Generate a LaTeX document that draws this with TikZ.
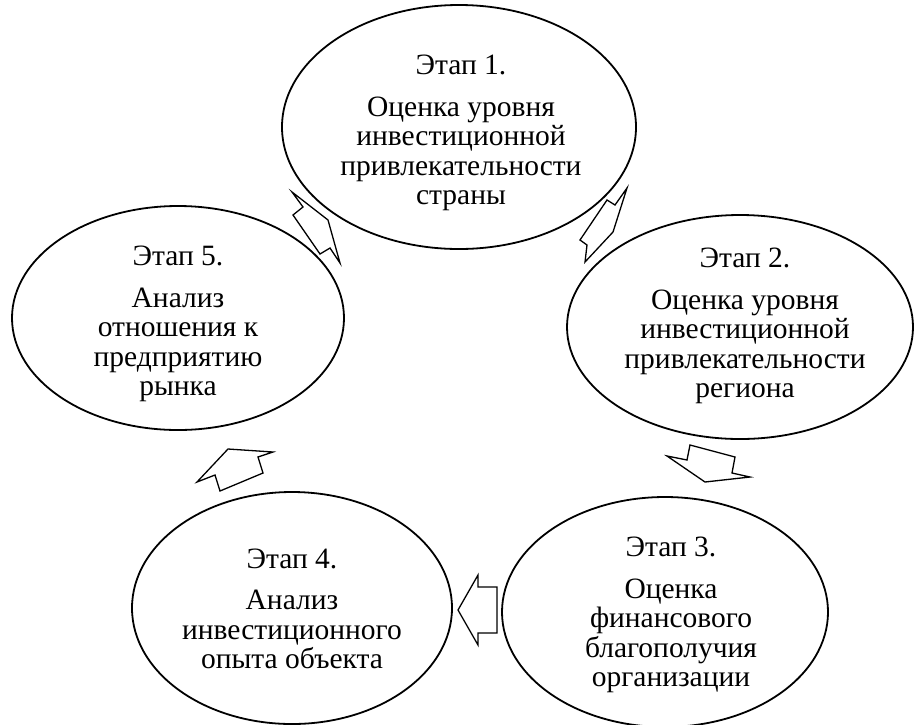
\documentclass[tikz,border=0pt]{standalone}
\usepackage{fontspec}
\setmainfont{Liberation Serif}
\usetikzlibrary{shapes.geometric}
\tikzset{
  stage/.style={draw,ellipse,line width=1.8pt,inner sep=0pt},
  stagetext/.style={align=center,inner sep=0pt,font=\fontsize{29.5}{29.5}\selectfont},
  blockarrow/.style={draw,line width=1.3pt,line join=miter,fill=white}
}

\begin{document}
\begin{tikzpicture}[x=1pt,y=-1pt]
\useasboundingbox (0,0) rectangle (915,724);

%stages
\node[stage,minimum width=354,minimum height=244] (e1) at (459,127) {}; %stage 1
\node[stage,minimum width=346,minimum height=224] (e2) at (740,327) {}; %stage 2
\node[stage,minimum width=326,minimum height=230] (e3) at (665,612) {}; %stage 3
\node[stage,minimum width=320,minimum height=232] (e4) at (292,608) {}; %stage 4
\node[stage,minimum width=332,minimum height=224] (e5) at (178,318) {}; %stage 5

%texts of the stages
\node[stagetext] (t1) at ([xshift=2pt,yshift=-6pt]e1.center)
  {Этап 1.\\[12pt]Оценка уровня\\инвестиционной\\привлекательности\\страны};
\node[stagetext] (t2) at ([xshift=5pt,yshift=1pt]e2.center)
  {Этап 2.\\[12pt]Оценка уровня\\инвестиционной\\привлекательности\\региона};
\node[stagetext] (t3) at ([xshift=6pt,yshift=-3pt]e3.center)
  {Этап 3.\\[12pt]Оценка\\финансового\\благополучия\\организации};
\node[stagetext] (t4) at ([yshift=-1pt]e4.center)
  {Этап 4.\\[12pt]Анализ\\инвестиционного\\опыта объекта};
\node[stagetext] (t5) at ([yshift=-6pt]e5.center)
  {Этап 5.\\[12pt]Анализ\\отношения к\\предприятию\\рынка};

%block arrows between the stages
\draw[blockarrow] (607,200)--(615,205)--(627,188)--(613,232)--(585,262)--(587,245)--(580,240)--cycle; %1 to 2
\draw[blockarrow] (705,482)--(750,477)--(732,473)--(735,457)--(690,445)--(687,460)--(667,456)--cycle; %2 to 3
\draw[blockarrow] (458,610)--(478,575)--(478,587)--(497,587)--(497,633)--(478,633)--(478,645)--cycle; %3 to 4
\draw[blockarrow] (228,449)--(273,452)--(258,457)--(263,473)--(220,491)--(215,475)--(197,482)--cycle; %4 to 5
\draw[blockarrow] (292,192)--(303,207)--(293,215)--(320,254)--(330,248)--(340,263)--(328,220)--cycle; %5 to 1
\end{tikzpicture}
\end{document}
